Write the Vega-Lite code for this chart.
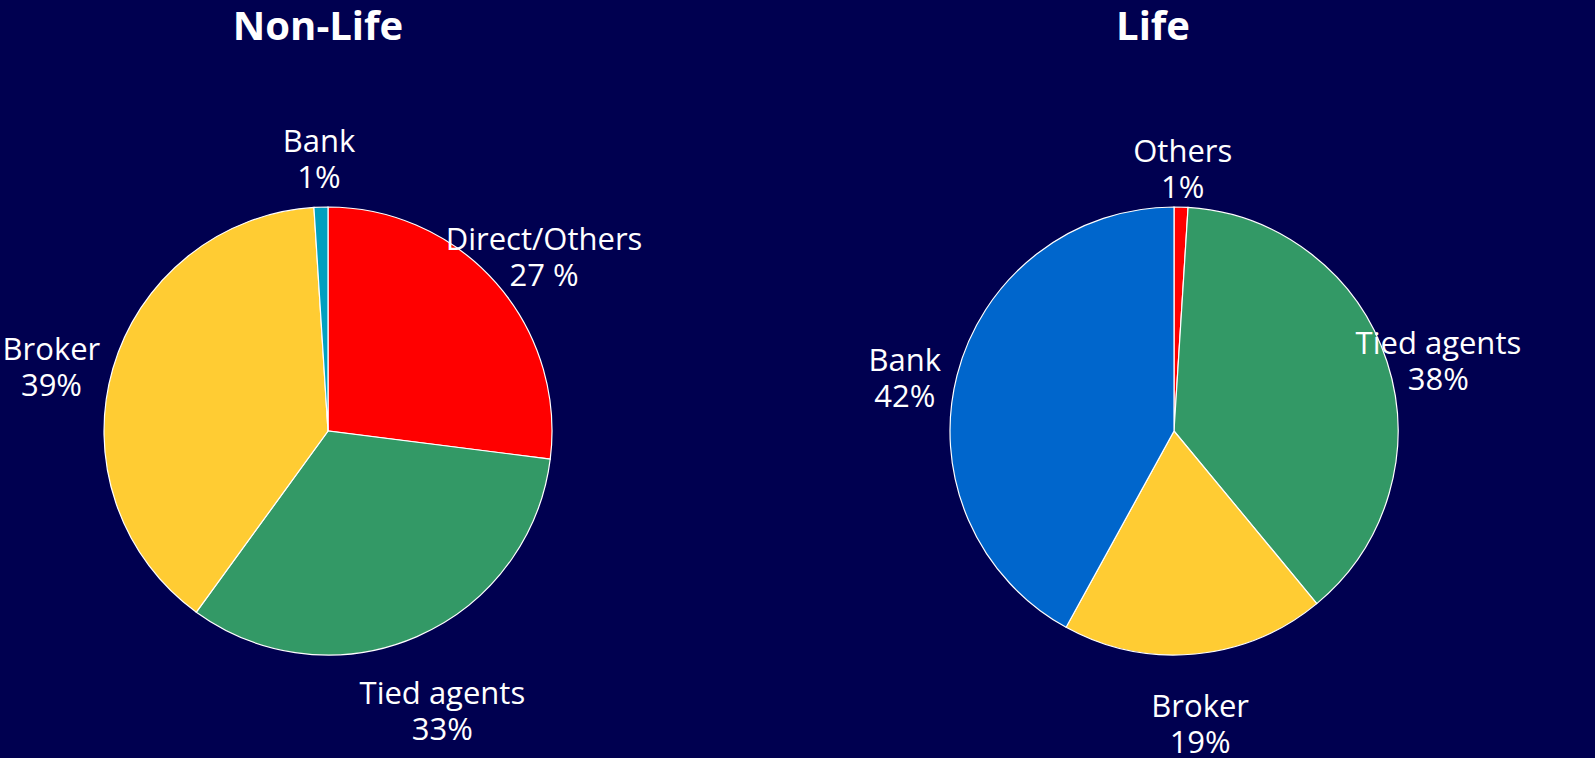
{
  "$schema": "https://vega.github.io/schema/vega-lite/v6.json",
  "background": "#000050",
  "padding": {"top": 8, "left": 0, "right": 0, "bottom": 8},
  "spacing": 97,
  "config": {
    "view": {"stroke": null},
    "font": "Open Sans",
    "title": {"fontSize": 40, "fontWeight": "bold", "color": "white", "anchor": "middle", "offset": 63}
  },
  "resolve": {"scale": {"color": "independent", "theta": "independent"}},
  "hconcat": [
    {
      "title": {"text": "Non-Life", "dx": -10},
      "width": 656,
      "height": 640,
      "data": {
        "values": [
          {"channel": "Direct/Others", "share": 27, "pct": "27 %", "seq": 1},
          {"channel": "Tied agents", "share": 33, "pct": "33%", "seq": 2},
          {"channel": "Broker", "share": 39, "pct": "39%", "seq": 3},
          {"channel": "Bank", "share": 1, "pct": "1%", "seq": 4}
        ]
      },
      "transform": [{"calculate": "[datum.channel, datum.pct]", "as": "lines"}],
      "encoding": {
        "theta": {"field": "share", "type": "quantitative", "stack": true},
        "order": {"field": "seq", "type": "quantitative"},
        "detail": {"field": "channel", "type": "nominal"}
      },
      "layer": [
        {
          "mark": {"type": "arc", "outerRadius": 224, "stroke": "white", "strokeWidth": 1.2},
          "encoding": {
            "color": {
              "field": "channel",
              "type": "nominal",
              "scale": {
                "domain": ["Direct/Others", "Tied agents", "Broker", "Bank"],
                "range": ["#ff0000", "#339966", "#ffcc33", "#00a0c0"]
              },
              "legend": null
            }
          }
        },
        {
          "mark": {"type": "text", "radius": 288, "fontSize": 31, "lineHeight": 36, "color": "white"},
          "encoding": {"text": {"field": "lines"}}
        }
      ]
    },
    {
      "title": {"text": "Life", "dx": -21},
      "width": 842,
      "height": 640,
      "data": {
        "values": [
          {"channel": "Others", "share": 1, "pct": "1%", "seq": 1},
          {"channel": "Tied agents", "share": 38, "pct": "38%", "seq": 2},
          {"channel": "Broker", "share": 19, "pct": "19%", "seq": 3},
          {"channel": "Bank", "share": 42, "pct": "42%", "seq": 4}
        ]
      },
      "transform": [{"calculate": "[datum.channel, datum.pct]", "as": "lines"}],
      "encoding": {
        "theta": {"field": "share", "type": "quantitative", "stack": true},
        "order": {"field": "seq", "type": "quantitative"},
        "detail": {"field": "channel", "type": "nominal"}
      },
      "layer": [
        {
          "mark": {"type": "arc", "outerRadius": 224, "stroke": "white", "strokeWidth": 1.2},
          "encoding": {
            "color": {
              "field": "channel",
              "type": "nominal",
              "scale": {
                "domain": ["Others", "Tied agents", "Broker", "Bank"],
                "range": ["#ff0000", "#339966", "#ffcc33", "#0066cc"]
              },
              "legend": null
            }
          }
        },
        {
          "mark": {"type": "text", "radius": 278, "fontSize": 31, "lineHeight": 36, "color": "white"},
          "encoding": {"text": {"field": "lines"}}
        }
      ]
    }
  ]
}
